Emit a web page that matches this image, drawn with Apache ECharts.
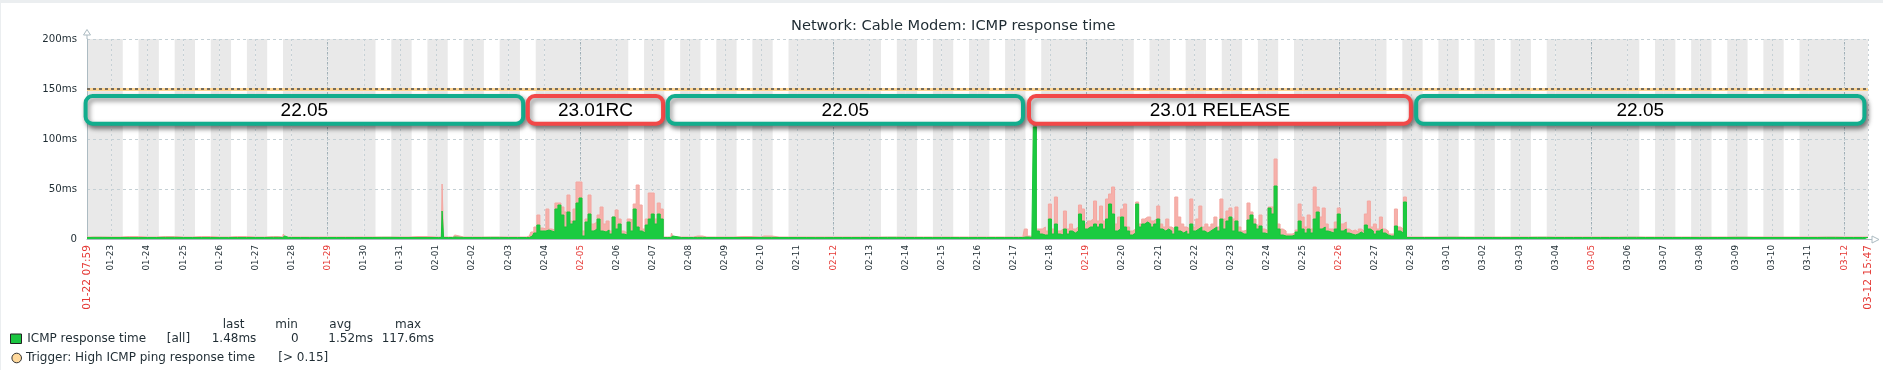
<!DOCTYPE html>
<html>
<head>
<meta charset="utf-8">
<script src="https://cdn.jsdelivr.net/npm/echarts@6/dist/echarts.min.js"></script>
<style>
html,body{margin:0;padding:0;background:#fff;}
#chart{width:1883px;height:370px;}
</style>
</head>
<body>
<div id="chart"></div>
<script>
// ---------------- data ----------------
const chartTitle = 'Network: Cable Modem: ICMP response time';
const rangeStart = '2023-01-22 07:59';
const rangeEnd = '2023-03-12 15:47';
const yTicks = [0, 50, 100, 150, 200];
const triggerValue = 150;

// quiet periods (baseline) + isolated spikes
const quietTimes = [
'2023-01-22 07:59','2023-01-22 12:00','2023-01-23 00:00','2023-01-23 12:00','2023-01-24 00:00','2023-01-24 12:00','2023-01-25 00:00','2023-01-25 12:00','2023-01-26 00:00','2023-01-26 12:00','2023-01-27 00:00','2023-01-27 12:00','2023-01-27 18:00','2023-01-27 19:00','2023-01-27 20:00','2023-01-28 00:00','2023-01-28 12:00','2023-01-29 00:00','2023-01-29 12:00','2023-01-30 00:00','2023-01-30 12:00','2023-01-31 00:00','2023-01-31 12:00','2023-02-01 00:00','2023-02-01 03:30','2023-02-01 04:30','2023-02-01 05:30','2023-02-01 11:00','2023-02-01 12:00','2023-02-01 13:00','2023-02-02 00:00','2023-02-02 12:00','2023-02-03 00:00','2023-02-03 12:00',
'2023-02-07 12:00','2023-02-07 13:00','2023-02-07 14:00','2023-02-08 00:00','2023-02-08 06:00','2023-02-08 12:00','2023-02-09 00:00','2023-02-09 12:00','2023-02-10 00:00','2023-02-10 02:00','2023-02-10 12:00','2023-02-11 00:00','2023-02-11 12:00','2023-02-12 00:00','2023-02-12 12:00','2023-02-13 00:00','2023-02-13 12:00','2023-02-14 00:00','2023-02-14 12:00','2023-02-15 00:00','2023-02-15 12:00','2023-02-16 00:00','2023-02-16 12:00','2023-02-17 00:00','2023-02-17 06:00',
'2023-02-28 06:00','2023-02-28 12:00','2023-03-01 00:00','2023-03-01 12:00','2023-03-02 00:00','2023-03-02 12:00','2023-03-03 00:00','2023-03-03 12:00','2023-03-04 00:00','2023-03-04 12:00','2023-03-05 00:00','2023-03-05 12:00','2023-03-06 00:00','2023-03-06 12:00','2023-03-07 00:00','2023-03-07 12:00','2023-03-08 00:00','2023-03-08 12:00','2023-03-09 00:00','2023-03-09 12:00','2023-03-10 00:00','2023-03-10 12:00','2023-03-11 00:00','2023-03-11 12:00','2023-03-12 00:00','2023-03-12 12:00','2023-03-12 15:47'
];
const quietAvg = [
1.5,1.6,1.5,1.4,1.5,1.6,1.5,1.5,1.4,1.5,1.5,1.6,1.5,3,1.5,1.5,1.4,1.5,1.5,1.5,1.6,1.5,1.5,1.5,1.5,28,1.5,1.5,2,1.5,1.5,1.6,1.5,1.5,
1.5,3,1.5,1.5,1.6,1.5,1.5,1.5,1.5,1.6,1.5,1.5,1.4,1.5,1.5,1.5,1.6,1.5,1.5,1.5,1.4,1.5,1.5,1.5,1.5,
1.5,1.5,1.6,1.5,1.5,1.4,1.5,1.6,1.5,1.5,1.5,1.5,1.6,1.5,1.5,1.5,1.4,1.5,1.6,1.5,1.5,1.5,1.5,1.6,1.5,1.5,1.48
];
const quietMax = [
2,2,2,2.5,2,2.5,2,2.5,2,2.5,2,2.5,2,5,2,2,2,2,2,2,2,2,2.5,2,2,55,2,2,4,2,2,2,2,2,
2,6,2,2,3,2,2,2.5,2,3,2,2,2,2,2,2,2,2,2,2,2,2,2,2,2,
2,2,2,2,2,2,2,2,2,2,2,2,2,2,2,2,2,2,2,2,2,2,2,2,2,2,2
];

// 23.01RC test period, 2-hour samples
const rcStart = '2023-02-03 14:00';
const rcStepHours = 2;
const rcAvg = [1.5,3,6,14,8,8,9,8,7,30,34,24,12,27,15,18,36,41,3,17,25,8,10,20,8,7,9,5,22,10,15,5,4,17,8,30,12,8,6,14,20,25,15,25,20,1.5];
const rcMax = [3,7,12,24,11,10,30,10,9,36,36,32,27,44,18,30,57,57,8,20,44,15,17,24,32,15,18,8,22,29,20,8,6,20,19,35,54,34,10,20,46,46,20,36,30,2];

// 23.01 RELEASE period, 2-hour samples
const relStart = '2023-02-17 08:00';
const relStepHours = 2;
const relAvg = [2,2,1.5,112,8,5,4,4,20,5, 15,5,4,10,5,8,6,8,25,18, 10,12,12,15,12,15,10,20,35,25, 8,10,22,12,8,4,6,35,12,15, 17,15,12,15,20,10,8,10,8,5, 12,8,6,8,5,15,8,10,12,8, 6,8,10,12,8,20,10,18,22,8, 18,7,5,5,19,24,15,10,13,6, 5,31,25,53,10,4,3,3,3,4, 7,18,10,6,10,6,20,27,10,12, 8,7,6,10,25,8,10,6,5,4, 5,7,5,14,10,8,5,8,10,6, 4,3,3,13,8,6,37,1.5];
const relMax = [10,3,2,117.6,10,10,12,8,35,10, 42,8,10,28,10,15,10,12,34,30, 15,18,20,38,18,33,18,40,45,52, 15,22,30,35,12,8,10,37,15,20, 22,22,18,20,33,15,12,20,12,10, 42,22,15,12,10,40,12,20,33,12, 15,12,15,22,12,40,20,28,31,20, 32,12,8,9,36,27,20,14,24,10, 8,32,32,80,15,10,8,5,5,6, 9,35,22,12,24,10,52,32,22,31, 15,10,10,17,31,15,17,10,8,9, 7,10,8,25,38,12,15,10,22,10, 8,5,5,30,12,10,42,2];

// firmware annotations
const boxLabels = ['22.05', '23.01RC', '22.05', '23.01 RELEASE', '22.05'];
const boxKinds = ['stable', 'test', 'stable', 'test', 'stable'];
const boxStarts = ['2023-01-22 07:03', '2023-02-03 13:00', '2023-02-07 10:03', '2023-02-17 10:07', '2023-02-28 03:29'];
const boxEnds = ['2023-02-03 09:53', '2023-02-07 06:53', '2023-02-17 06:06', '2023-02-27 23:55', '2023-03-12 13:23'];
const boxLow = 115.3, boxHigh = 143;

// legend stats
const legendHeaders = ['last', 'min', 'avg', 'max'];
const legendStats = ['1.48ms', '0', '1.52ms', '117.6ms'];
const seriesName = 'ICMP response time';
const triggerName = 'Trigger: High ICMP ping response time';
const triggerCond = '[> 0.15]';

// working time (Mon-Fri)
const workStartMin = 7 * 60 + 45, workEndMin = 18 * 60 + 15;

// ---------------- helpers ----------------
const HOUR = 3600000;
const pad = n => String(n).padStart(2, '0');
function ts(s) {
  const [d, t] = s.split(' ');
  const [Y, M, D] = d.split('-').map(Number);
  const [h, m] = t.split(':').map(Number);
  return new Date(Y, M - 1, D, h, m).getTime();
}
const xMin = ts(rangeStart), xMax = ts(rangeEnd);

const points = [];
quietTimes.forEach((t, i) => points.push([ts(t), quietAvg[i], quietMax[i]]));
rcAvg.forEach((v, i) => points.push([ts(rcStart) + i * rcStepHours * HOUR, v, rcMax[i]]));
relAvg.forEach((v, i) => points.push([ts(relStart) + i * relStepHours * HOUR, v, relMax[i]]));
points.sort((a, b) => a[0] - b[0]);
const avgData = points.map(p => [p[0], p[1]]);
const maxData = points.map(p => [p[0], p[2]]);

// non-working time shading & week lines
const stripes = [];
const sundays = [];
const d0 = new Date(2023, 0, 22);
for (let i = 0; ; i++) {
  const day = new Date(d0.getFullYear(), d0.getMonth(), d0.getDate() + i);
  const a = day.getTime();
  if (a >= xMax) break;
  const next = new Date(day.getFullYear(), day.getMonth(), day.getDate() + 1).getTime();
  const wd = day.getDay();
  if (wd === 0 && a > xMin) sundays.push(a);
  const segs = (wd === 0 || wd === 6) ? [[a, next]] : [[a, a + workStartMin * 60000], [a + workEndMin * 60000, next]];
  segs.forEach(s => {
    const lo = Math.max(s[0], xMin), hi = Math.min(s[1], xMax);
    if (hi > lo) stripes.push([{ xAxis: lo }, { xAxis: hi }]);
  });
}

const TXT = '#1F2C33';
const RED = '#E53935';
const AXIS = '#ACBBC2';
const FONT = '"DejaVu Sans", sans-serif';

const chart = echarts.init(document.getElementById('chart'), null, { renderer: 'canvas' });

const legendGraphics = [];
const hdrX = [222.7, 275.3, 329.3, 395];
legendHeaders.forEach((h, i) => legendGraphics.push({ type: 'text', x: hdrX[i], y: 325, style: { text: h, fill: TXT, fontSize: 12, fontFamily: FONT, verticalAlign: 'middle' } }));
legendGraphics.push({ type: 'rect', shape: { x: 10.5, y: 334, width: 11, height: 9.5 }, style: { fill: '#1AC540', stroke: '#222', lineWidth: 1 } });
legendGraphics.push({ type: 'text', x: 27.3, y: 338.5, style: { text: seriesName, fill: TXT, fontSize: 12, fontFamily: FONT, verticalAlign: 'middle' } });
legendGraphics.push({ type: 'text', x: 166.7, y: 338.5, style: { text: '[all]', fill: TXT, fontSize: 12, fontFamily: FONT, verticalAlign: 'middle' } });
const statX = [211.7, 291, 328.3, 381.7];
legendStats.forEach((s, i) => legendGraphics.push({ type: 'text', x: statX[i], y: 338.5, style: { text: s, fill: TXT, fontSize: 12, fontFamily: FONT, verticalAlign: 'middle' } }));
legendGraphics.push({ type: 'circle', shape: { cx: 16.7, cy: 358, r: 4.8 }, style: { fill: '#FFD99C', stroke: '#333', lineWidth: 1 } });
legendGraphics.push({ type: 'text', x: 26, y: 358, style: { text: triggerName, fill: TXT, fontSize: 12, fontFamily: FONT, verticalAlign: 'middle' } });
legendGraphics.push({ type: 'text', x: 278.3, y: 358, style: { text: triggerCond, fill: TXT, fontSize: 12, fontFamily: FONT, verticalAlign: 'middle' } });

const option = {
  animation: false,
  backgroundColor: '#ffffff',
  title: {
    text: chartTitle, left: 786, top: 14,
    textStyle: { fontFamily: FONT, fontSize: 14.6, fontWeight: 'normal', color: TXT }
  },
  grid: { left: 87, right: 15, top: 39, bottom: 131, containLabel: false },
  xAxis: {
    type: 'time', min: xMin, max: xMax,
    minInterval: 86400000, maxInterval: 86400000, splitNumber: 50,
    axisLine: { show: true, lineStyle: { color: AXIS, width: 1 } },
    axisTick: { show: false },
    splitLine: { show: true, lineStyle: { color: '#C5D0D5', type: [2, 3], width: 1 } },
    axisLabel: {
      show: true, rotate: 90, margin: 6, showMinLabel: true, showMaxLabel: true,
      formatter: function (v) {
        const d = new Date(v);
        const md = pad(d.getMonth() + 1) + '-' + pad(d.getDate());
        if (Math.abs(v - xMin) < 1000 || Math.abs(v - xMax) < 1000) return '{end|' + md + ' ' + pad(d.getHours()) + ':' + pad(d.getMinutes()) + '}';
        if (d.getHours() !== 0 || d.getMinutes() !== 0) return '';
        return d.getDay() === 0 ? '{sun|' + md + '}' : '{day|' + md + '}';
      },
      rich: {
        day: { color: TXT, fontSize: 8.8, fontFamily: FONT },
        sun: { color: RED, fontSize: 8.8, fontFamily: FONT },
        end: { color: RED, fontSize: 10.6, fontFamily: FONT }
      }
    }
  },
  yAxis: {
    type: 'value', min: 0, max: 200, interval: 50,
    axisLine: { show: true, lineStyle: { color: AXIS, width: 1 } },
    axisTick: { show: false },
    splitLine: { show: true, lineStyle: { color: '#C5D0D5', type: [3, 3], width: 1 } },
    axisLabel: {
      margin: 10, color: TXT, fontSize: 10.2, fontFamily: FONT,
      formatter: v => (yTicks.indexOf(v) >= 0 ? (v === 0 ? '0' : v + 'ms') : '')
    }
  },
  graphic: [
    { type: 'rect', shape: { x: 0, y: 0, width: 1883, height: 3 }, style: { fill: '#EBEEF0' } },
    { type: 'rect', shape: { x: 0, y: 0, width: 1, height: 370 }, style: { fill: '#EBEEF0' } },
    { type: 'line', shape: { x1: 87, y1: 35, x2: 87, y2: 39 }, style: { stroke: AXIS, lineWidth: 1 } },
    { type: 'polygon', shape: { points: [[87, 29.5], [83.5, 35], [90.5, 35]] }, style: { fill: '#fff', stroke: AXIS, lineWidth: 1 } },
    { type: 'line', shape: { x1: 1868, y1: 239.5, x2: 1872, y2: 239.5 }, style: { stroke: AXIS, lineWidth: 1 } },
    { type: 'polygon', shape: { points: [[1879, 239.5], [1872, 236], [1872, 243]] }, style: { fill: '#fff', stroke: AXIS, lineWidth: 1 } }
  ].concat(legendGraphics),
  series: [
    {
      name: 'background', type: 'line', data: [], z: -1, silent: true,
      markArea: { silent: true, z: -1, itemStyle: { color: '#E9E9E9' }, data: stripes },
      markLine: {
        silent: true, z: 1, symbol: 'none', label: { show: false },
        lineStyle: { color: '#9FAEB5', type: [2, 3], width: 1 },
        data: sundays.map(t => ({ xAxis: t }))
      }
    },
    {
      name: 'max', type: 'line', data: maxData, step: 'middle', showSymbol: false, z: 3, silent: true,
      lineStyle: { color: '#F4A7A1', width: 1 },
      areaStyle: { color: '#F6B0AA', opacity: 1 }
    },
    {
      name: seriesName, type: 'line', data: avgData, step: 'middle', showSymbol: false, z: 4, silent: true,
      lineStyle: { color: '#17C43A', width: 1 },
      areaStyle: { color: '#1BCB40', opacity: 1 }
    },
    {
      name: 'trigger', type: 'line', data: [], z: 5, silent: true,
      markLine: {
        silent: true, symbol: 'none', label: { show: false },
        data: [
          { yAxis: triggerValue, lineStyle: { color: '#FFD590', type: 'solid', width: 3 } },
          { yAxis: triggerValue, lineStyle: { color: '#4A4A4A', type: [3, 3], width: 1.5 } }
        ]
      }
    },
    {
      name: 'firmware', type: 'custom', z: 10, silent: true, clip: false,
      data: boxStarts.map((s, i) => [ts(s), ts(boxEnds[i]), i]),
      encode: { x: [0, 1] },
      renderItem: function (params, api) {
        const i = api.value(2);
        const p0 = api.coord([api.value(0), boxHigh]);
        const p1 = api.coord([api.value(1), boxLow]);
        const color = boxKinds[i] === 'stable' ? '#12AD8D' : '#F24848';
        return {
          type: 'group',
          children: [
            {
              type: 'rect',
              shape: { x: p0[0], y: p0[1], width: p1[0] - p0[0], height: p1[1] - p0[1], r: 7 },
              style: { fill: '#ffffff', stroke: color, lineWidth: 4, shadowBlur: 5, shadowOffsetX: 2, shadowOffsetY: 3, shadowColor: 'rgba(0,0,0,0.45)' }
            },
            {
              type: 'text', x: (p0[0] + p1[0]) / 2, y: (p0[1] + p1[1]) / 2 + 1,
              style: { text: boxLabels[i], fill: '#000', fontSize: 19, fontFamily: '"Liberation Sans", Arial, sans-serif', align: 'center', verticalAlign: 'middle' }
            }
          ]
        };
      }
    }
  ]
};
chart.setOption(option);
</script>
</body>
</html>
